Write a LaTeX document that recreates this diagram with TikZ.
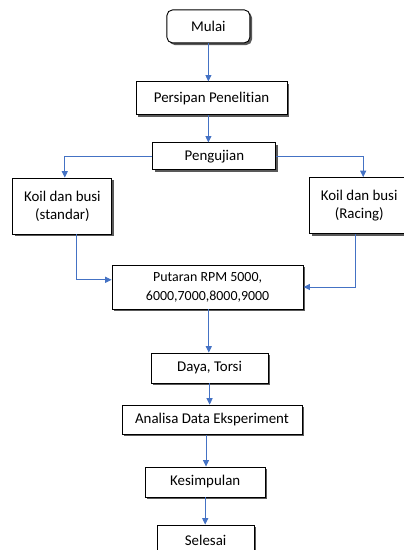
\documentclass[tikz,border=0pt]{standalone}
\usepackage{fontspec}
\setmainfont{Carlito}[Ligatures=NoCommon]
\usepackage{xcolor}
\usepackage{tikz}
\usetikzlibrary{arrows.meta,positioning,shadows}
\definecolor{FlowBlue}{HTML}{4472C4}
\tikzset{
  flowarrow/.style={-{Triangle[length=1.6mm,width=1.5mm]}, line width=0.6pt, draw=FlowBlue},
  flowshadow/.style={drop shadow={shadow xshift=1.5pt, shadow yshift=-1.5pt, fill=black!65, opacity=1}}
}
\begin{document}
\begin{tikzpicture}[
  font=\fontsize{10.6}{12.8}\selectfont,
  box/.style={draw=black, line width=0.65pt, fill=white, flowshadow, align=center, inner sep=2pt}
]
\useasboundingbox (0,0) rectangle (10.075,-13.75);
\node[box, rounded corners=4pt, minimum width=2.075cm, minimum height=0.825cm] at (5.21,-0.66) (mulai) {Mulai};
\node[box, minimum width=3.775cm, minimum height=0.825cm] at (5.29,-2.46) (persiapan) {Persipan Penelitian};
\node[box, minimum width=3.075cm, minimum height=0.675cm] at (5.36,-3.91) (uji) {Pengujian};
\node[box, minimum width=2.475cm, minimum height=1.4cm] at (1.56,-5.15) (standar) {Koil dan busi\\(standar)};
\node[box, minimum width=2.475cm, minimum height=1.4cm] at (8.98,-5.14) (racing) {Koil dan busi\\(Racing)};
\node[box, minimum width=4.775cm, minimum height=1.1cm, font=\fontsize{9.9}{13.5}\selectfont] at (5.19,-7.175) (rpm) {Putaran RPM 5000,\\6000,7000,8000,9000};
\node[box, minimum width=2.925cm, minimum height=0.75cm] at (5.24,-9.2) (daya) {Daya, Torsi};
\node[box, minimum width=4.5cm, minimum height=0.725cm] at (5.3,-10.49) (analisa) {Analisa Data Eksperiment};
\node[box, minimum width=3.0cm, minimum height=0.75cm] at (5.13,-12.05) (simpul) {Kesimpulan};
\node[box, minimum width=2.425cm, minimum height=0.75cm] at (5.14,-13.5) (selesai) {Selesai};

% main column
\draw[flowarrow] (mulai.south) -- (mulai.south |- persiapan.north);
\draw[flowarrow] ([xshift=-0.08cm]persiapan.south) -- ([xshift=-0.08cm]persiapan.south |- uji.north);
% branch to both ignition sets
\draw[flowarrow] (uji.west) -| ([xshift=0.06cm]standar.north);
\draw[flowarrow] (uji.east) -| ([xshift=0.1cm]racing.north);
\draw[flowarrow] ([xshift=0.36cm]standar.south) |- ([yshift=0.18cm]rpm.west);
\draw[flowarrow] ([xshift=-0.1cm]racing.south) |- (rpm.east);
\draw[flowarrow] ([xshift=0.03cm]rpm.south) -- ([xshift=0.03cm]rpm.south |- daya.north);
\draw[flowarrow] (daya.south) -- (daya.south |- analisa.north);
\draw[flowarrow] ([xshift=-0.15cm]analisa.south) -- ([xshift=-0.15cm]analisa.south |- simpul.north);
\draw[flowarrow] ([xshift=0.0cm]simpul.south) -- (simpul.south |- selesai.north);
\end{tikzpicture}
\end{document}
